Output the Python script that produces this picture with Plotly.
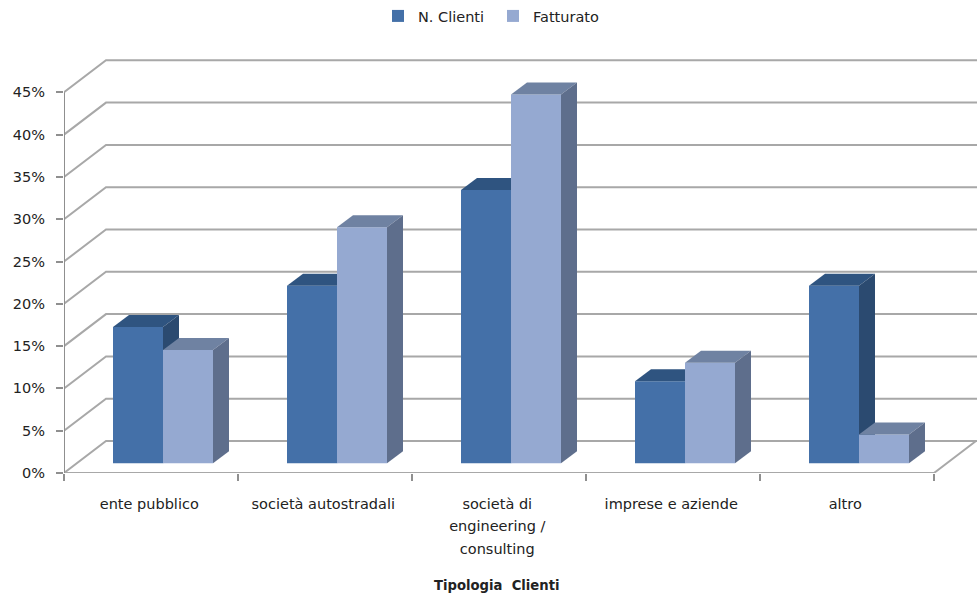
import plotly.graph_objects as go

categories = ["ente pubblico", "società autostradali", "società di<br>engineering /<br>consulting", "imprese e aziende", "altro"]
n_clienti = [16.1, 21.0, 32.3, 9.7, 21.0]
fatturato = [13.4, 27.9, 43.6, 11.9, 3.4]
y_ticks = [0, 5, 10, 15, 20, 25, 30, 35, 40, 45]

W, H = 977, 597
ML, MT, MB = 64, 55, 124
CAT_PX = 174.0
PCT_PX = 8.46
px = lambda v: v / CAT_PX
pc = lambda v: v / PCT_PX
XMAX = (W - ML) / CAT_PX
YMAX = (H - MT - MB) / PCT_PX

WALL_X, WALL_Y = px(42), pc(32)
FRONT_X, FRONT_Y = px(12.8), pc(9.7)
DEPTH_X, DEPTH_Y = px(16), pc(12)
BAR_W = px(50)
BAR_START = px(49.0)

GRID = "#a8a8a8"
AXIS = "#8f8f8f"
TEXT = "#222222"
FONT = "DejaVu Sans"
FS = 14.5

fig = go.Figure()

def line(xs, ys, color=GRID, width=2):
    fig.add_trace(go.Scatter(x=xs, y=ys, mode="lines", showlegend=False, hoverinfo="skip",
                             line=dict(color=color, width=width), xaxis="x", yaxis="y"))

for t in y_ticks:
    line([0, WALL_X, XMAX], [t, t + WALL_Y, t + WALL_Y])
line([0, 5, 5 + WALL_X], [0, 0, WALL_Y])
line([0, 0], [0, 45], AXIS, 2)

series = [
    ("N. Clienti", n_clienti, 0, "#4470A8", "#2F5480", "#2B4A70", "x2", "y2"),
    ("Fatturato", fatturato, 1, "#95A9D1", "#6F82A2", "#5E6E8C", "x3", "y3"),
]
for name, vals, k, front, top, side, xa, ya in series:
    lefts = [i + BAR_START + k * BAR_W for i in range(len(vals))]
    fig.add_trace(go.Bar(name=name, x=[l + BAR_W / 2 for l in lefts], y=vals,
                         base=[FRONT_Y] * len(vals), width=BAR_W,
                         marker=dict(color=front, line=dict(width=0)),
                         xaxis=xa, yaxis=ya, hoverinfo="skip"))
    for l, v in zip(lefts, vals):
        t = FRONT_Y + v
        r = l + BAR_W
        fig.add_trace(go.Scatter(
            x=[l, r, r + DEPTH_X, l + DEPTH_X, l], y=[t, t, t + DEPTH_Y, t + DEPTH_Y, t],
            mode="lines", fill="toself", fillcolor=top, line=dict(width=0),
            showlegend=False, hoverinfo="skip", xaxis=xa, yaxis=ya))
        fig.add_trace(go.Scatter(
            x=[r, r + DEPTH_X, r + DEPTH_X, r, r],
            y=[FRONT_Y, FRONT_Y + DEPTH_Y, t + DEPTH_Y, t, FRONT_Y],
            mode="lines", fill="toself", fillcolor=side, line=dict(width=0),
            showlegend=False, hoverinfo="skip", xaxis=xa, yaxis=ya))

hidden_x = dict(range=[0, XMAX], visible=False, overlaying="x", domain=[0, 1])
hidden_y = dict(range=[0, YMAX], visible=False, overlaying="y", domain=[0, 1])

def sized(label):
    return "<br>".join(f'<span style="font-size:{FS}px">{p}</span>' for p in label.split("<br>"))

fig.update_layout(
    width=W, height=H, autosize=False,
    margin=dict(l=ML, r=0, t=MT, b=MB, pad=0),
    paper_bgcolor="white", plot_bgcolor="white",
    font=dict(family=FONT, size=FS, color=TEXT),
    barmode="overlay",
    showlegend=True,
    legend=dict(orientation="h", yref="container", xref="container",
                x=378 / W, y=1 - 16 / H, xanchor="left", yanchor="middle",
                font=dict(size=FS, color=TEXT), itemclick=False, itemdoubleclick=False,
                traceorder="normal", itemwidth=30, entrywidth=70, entrywidthmode="pixels",
                bgcolor="rgba(0,0,0,0)"),
    xaxis=dict(range=[0, XMAX], showgrid=False, zeroline=False, showline=False,
               tickmode="array", tickvals=[i + 0.49 for i in range(len(categories))],
               ticktext=[sized(c) for c in categories], ticks="outside", ticklen=14,
               tickcolor="rgba(0,0,0,0)",
               tickangle=0, tickfont=dict(size=17.3, color=TEXT),
               minor=dict(tickmode="array", tickvals=list(range(len(categories) + 1)),
                          ticks="outside", ticklen=7, tickwidth=1.5, tickcolor=AXIS)),
    yaxis=dict(range=[0, YMAX], showgrid=False, zeroline=False, showline=False,
               tickmode="array", tickvals=y_ticks, ticktext=[f"{t}%" for t in y_ticks],
               ticks="outside", ticklen=7, tickwidth=1.5, tickcolor=AXIS,
               ticklabelstandoff=8, tickfont=dict(size=FS, color=TEXT)),
    xaxis2=hidden_x, yaxis2=hidden_y, xaxis3=hidden_x, yaxis3=hidden_y,
    annotations=[dict(text="<b>Tipologia  Clienti</b>", x=2.49, xref="x", y=(H - 585 - MB) / (H - MT - MB),
                      yref="paper", yanchor="middle", showarrow=False, font=dict(size=13.2, color=TEXT))],
)

fig.write_html("out.html", config=dict(displayModeBar=False),
               post_script="document.body.style.margin='0';document.body.style.overflow='hidden';")
